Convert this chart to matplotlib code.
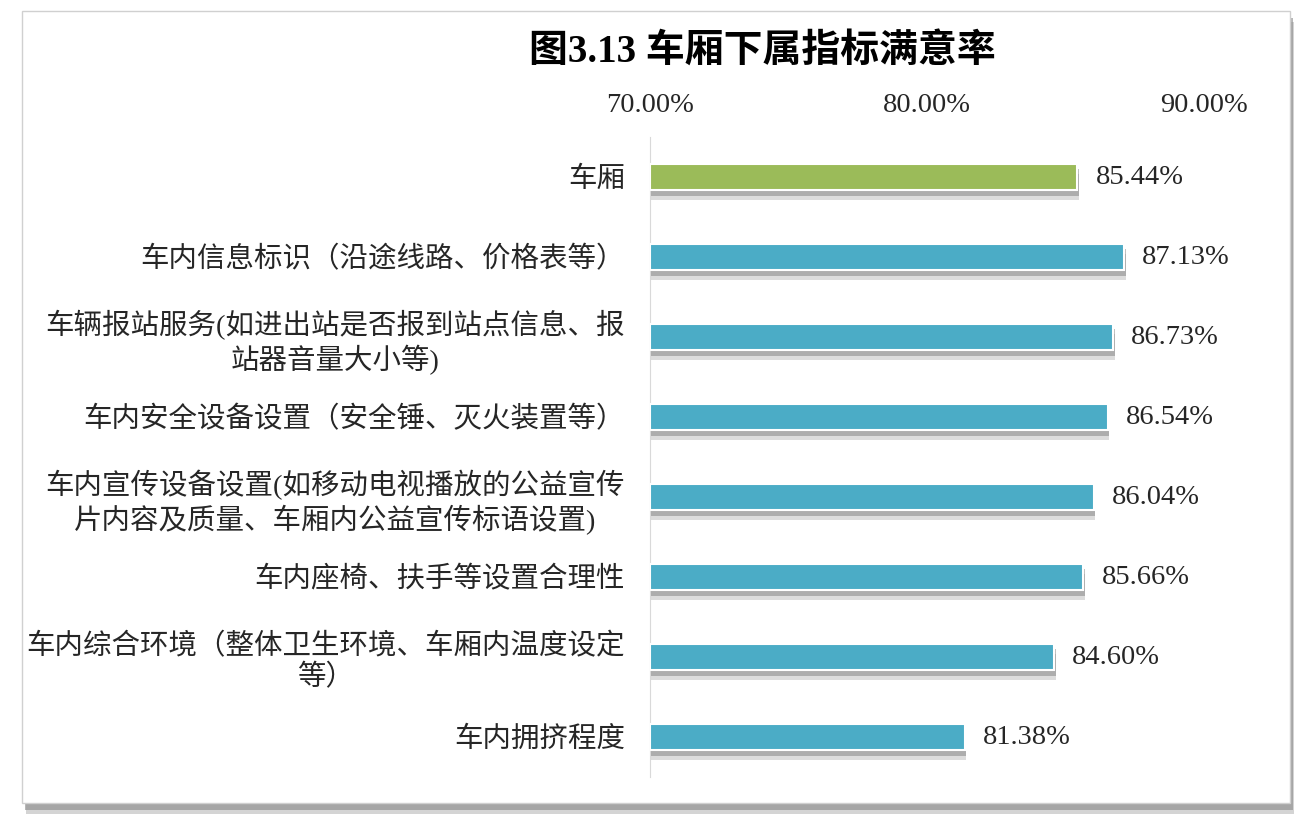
import matplotlib
matplotlib.use("Agg")
import matplotlib.pyplot as plt
import matplotlib.patches as mpatches
import matplotlib.patheffects as pe
from matplotlib.ticker import FuncFormatter

plt.rcParams['font.family'] = ['Liberation Serif', 'Noto Sans CJK SC', 'DejaVu Sans']

# 数据（从上到下）
categories = [
    "车厢",
    "车内信息标识（沿途线路、价格表等）",
    "车辆报站服务(如进出站是否报到站点信息、报\n站器音量大小等)",
    "车内安全设备设置（安全锤、灭火装置等）",
    "车内宣传设备设置(如移动电视播放的公益宣传\n片内容及质量、车厢内公益宣传标语设置)",
    "车内座椅、扶手等设置合理性",
    "车内综合环境（整体卫生环境、车厢内温度设定\n等）",
    "车内拥挤程度",
]
values = [85.44, 87.13, 86.73, 86.54, 86.04, 85.66, 84.60, 81.38]
bar_colors = ['#9BBB59'] + ['#4BACC6'] * 7
x_ticks = [70, 80, 90]

fig = plt.figure(figsize=(13.16, 8.26), dpi=100, facecolor='white')

# 外框 + 阴影
frame = mpatches.Rectangle((22 / 1316, 1 - 803 / 826), 1268 / 1316, 792 / 826,
                           transform=fig.transFigure, facecolor='white',
                           edgecolor='#D0D0D0', linewidth=1, zorder=-5)
frame.set_path_effects([pe.SimplePatchShadow(offset=(3, -8), shadow_rgbFace='#AAAAAA', alpha=0.5),
                        pe.SimplePatchShadow(offset=(2, -5), shadow_rgbFace='#888888', alpha=0.6),
                        pe.Normal()])
fig.patches.append(frame)

ax = fig.add_axes([650 / 1316, 1 - 777 / 826, 609 / 1316, 640 / 826])
ax.set_facecolor('none')

y = list(range(len(categories)))
bars = ax.barh(y, [v - 70 for v in values], left=70, height=0.33,
               color=bar_colors, edgecolor='white', linewidth=1.5, zorder=3)
for b in bars:
    b.set_path_effects([pe.SimplePatchShadow(offset=(1, -7), shadow_rgbFace='#BBBBBB', alpha=0.5),
                        pe.SimplePatchShadow(offset=(1, -4), shadow_rgbFace='#808080', alpha=0.5),
                        pe.Normal()])

for yi, v in zip(y, values):
    ax.annotate(f"{v:.2f}%", (v, yi), xytext=(13, 0), textcoords='offset points',
                ha='left', va='center', fontsize=20.5, color='#262626')

ax.set_xlim(70, 92)
ax.set_ylim(len(categories) - 0.5, -0.5)
ax.set_xticks(x_ticks)
ax.xaxis.set_major_formatter(FuncFormatter(lambda x, p: f"{x:.2f}%"))
ax.xaxis.tick_top()
ax.tick_params(axis='x', length=0, pad=14, labelsize=20.5, labelcolor='#262626')
ax.set_yticks(y)
ax.set_yticklabels(categories, fontsize=20.5, color='#262626', multialignment='center')
ax.tick_params(axis='y', length=0, pad=18)

for s in ['top', 'right', 'bottom']:
    ax.spines[s].set_visible(False)
ax.spines['left'].set_color('#D9D9D9')

fig.text(762 / 1316, 1 - 52 / 826, "图3.13 车厢下属指标满意率", ha='center', va='center',
         fontsize=28, fontweight='bold', color='black')

fig.savefig("out.png", dpi=100, facecolor='white')
